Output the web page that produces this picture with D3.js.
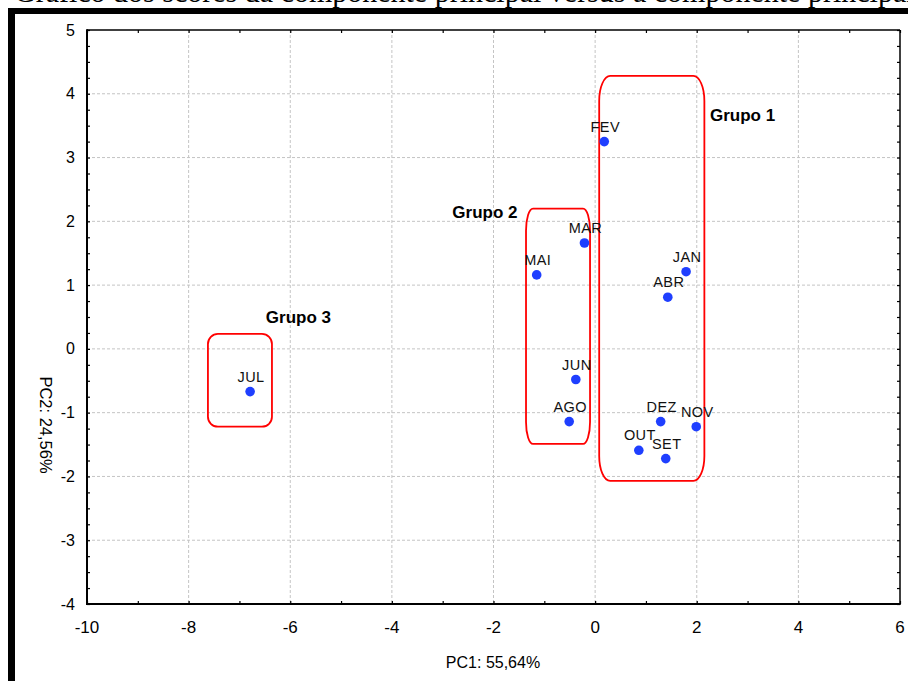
<!DOCTYPE html>
<html>
<head>
<meta charset="utf-8">
<script src="https://cdn.jsdelivr.net/npm/d3@7"></script>
<style>
  html, body { margin: 0; padding: 0; background: #fff; }
  svg { display: block; }
  text { font-family: "Liberation Sans", Arial, sans-serif; }
</style>
</head>
<body>
<svg id="chart" width="908" height="681"></svg>
<script>
// ---- data ----
const months = ["JAN","FEV","MAR","ABR","MAI","JUN","JUL","AGO","SET","OUT","NOV","DEZ"];
const pc1 = [1.79, 0.18, -0.21, 1.43, -1.15, -0.38, -6.79, -0.51, 1.39, 0.86, 1.99, 1.29];
const pc2 = [1.21, 3.25, 1.66, 0.81, 1.16, -0.48, -0.67, -1.14, -1.72, -1.59, -1.22, -1.14];

const groupNames = ["Grupo 1", "Grupo 2", "Grupo 3"];
const groupX0 = [0.08, -1.36, -7.62];
const groupX1 = [2.15, -0.10, -6.36];
const groupYTop = [4.28, 2.20, 0.235];
const groupYBottom = [-2.07, -1.49, -1.22];
const groupLabelX = [2.26, -2.81, -6.48];
const groupLabelY = [3.58, 2.06, 0.41];

const xTicks = [-10, -8, -6, -4, -2, 0, 2, 4, 6];
const yTicks = [5, 4, 3, 2, 1, 0, -1, -2, -3, -4];
const xTitle = "PC1: 55,64%";
const yTitle = "PC2: 24,56%";
const title = "Gráfico dos scores da componente principal versus a componente principal";

// ---- layout ----
const svg = d3.select("#chart");
const L = 87, R = 900, T = 30, B = 604;
const x = d3.scaleLinear().domain([-10, 6]).range([L, R]);
const y = d3.scaleLinear().domain([-4, 5]).range([B, T]);

// title (clipped at top, as in the source image)
svg.append("text")
  .attr("x", 14).attr("y", 2)
  .style("font-family", "'Liberation Serif', 'Times New Roman', serif")
  .style("font-size", "30px")
  .attr("fill", "#000")
  .text(title);

// black frame bars
svg.append("rect").attr("x", 8).attr("y", 8).attr("width", 900).attr("height", 6).attr("fill", "#000");
svg.append("rect").attr("x", 8).attr("y", 8).attr("width", 7).attr("height", 673).attr("fill", "#000");

// gridlines
const grid = svg.append("g");
grid.selectAll("line.vx").data(xTicks.filter(d => d > -10 && d < 6)).join("line")
  .attr("x1", d => x(d)).attr("x2", d => x(d)).attr("y1", T).attr("y2", B)
  .attr("stroke", "#c4c4c4").attr("stroke-width", 1).attr("stroke-dasharray", "3,2");
grid.selectAll("line.hy").data(yTicks.filter(d => d > -4 && d < 5)).join("line")
  .attr("y1", d => y(d)).attr("y2", d => y(d)).attr("x1", L).attr("x2", R)
  .attr("stroke", "#c4c4c4").attr("stroke-width", 1).attr("stroke-dasharray", "3,2");

// axes with inward ticks
const xMinor = d3.range(-10, 6.001, 1);
const yMinor = d3.range(-4, 5.001, 0.25);
const axB = d3.axisBottom(x).tickValues(xMinor).tickSize(-3).tickFormat("");
const axT = d3.axisTop(x).tickValues(xMinor).tickSize(-3).tickFormat("");
const axL = d3.axisLeft(y).tickValues(yMinor).tickSize(-3).tickFormat("");
const axR = d3.axisRight(y).tickValues(yMinor).tickSize(-3).tickFormat("");
function styleAxis(g) {
  g.select(".domain").remove();
  g.selectAll(".tick line").attr("stroke", "#000").attr("stroke-width", 1.2);
}
svg.append("g").attr("transform", `translate(0,${B})`).call(axB).call(styleAxis);
svg.append("g").attr("transform", `translate(0,${T})`).call(axT).call(styleAxis);
svg.append("g").attr("transform", `translate(${L},0)`).call(axL).call(styleAxis);
svg.append("g").attr("transform", `translate(${R},0)`).call(axR).call(styleAxis);

// frame
svg.append("line").attr("x1", L).attr("x2", R).attr("y1", T).attr("y2", T).attr("stroke", "#000").attr("stroke-width", 1.5);
svg.append("line").attr("x1", R).attr("x2", R).attr("y1", T).attr("y2", B).attr("stroke", "#000").attr("stroke-width", 1.5);
svg.append("line").attr("x1", L).attr("x2", L).attr("y1", T - 0.75).attr("y2", B + 1).attr("stroke", "#000").attr("stroke-width", 2);
svg.append("line").attr("x1", L - 1).attr("x2", R + 0.75).attr("y1", B).attr("y2", B).attr("stroke", "#000").attr("stroke-width", 2);

// tick labels
svg.append("g").selectAll("text").data(xTicks).join("text")
  .attr("x", d => x(d)).attr("y", 633)
  .attr("text-anchor", "middle")
  .style("font-size", "17px").attr("fill", "#000")
  .text(d => d);
svg.append("g").selectAll("text").data(yTicks).join("text")
  .attr("x", 75).attr("y", d => y(d) + 5.5)
  .attr("text-anchor", "end")
  .style("font-size", "16px").attr("fill", "#000")
  .text(d => d);

// axis titles
svg.append("text").attr("x", 493).attr("y", 668).attr("text-anchor", "middle")
  .style("font-size", "16px").attr("fill", "#000").text(xTitle);
svg.append("text").attr("transform", "translate(40,425) rotate(90)").attr("text-anchor", "middle")
  .style("font-size", "16.5px").attr("fill", "#000").text(yTitle);

// group boxes
const cornerRx = [11, 7, 10];
const cornerRy = [25, 22, 10];
const groups = groupNames.map((n, i) => ({ n, i }));
svg.append("g").selectAll("rect").data(groups).join("rect")
  .attr("x", d => x(groupX0[d.i]))
  .attr("y", d => y(groupYTop[d.i]))
  .attr("width", d => x(groupX1[d.i]) - x(groupX0[d.i]))
  .attr("height", d => y(groupYBottom[d.i]) - y(groupYTop[d.i]))
  .attr("rx", d => cornerRx[d.i]).attr("ry", d => cornerRy[d.i])
  .attr("fill", "none").attr("stroke", "#ff0000").attr("stroke-width", 1.8);

svg.append("g").selectAll("text").data(groups).join("text")
  .attr("x", d => x(groupLabelX[d.i])).attr("y", d => y(groupLabelY[d.i]))
  .style("font-size", "17px").style("font-weight", "bold").attr("fill", "#000")
  .text(d => d.n);

// points
const pts = months.map((m, i) => ({ m, px: pc1[i], py: pc2[i] }));
svg.append("g").selectAll("circle").data(pts).join("circle")
  .attr("cx", d => x(d.px)).attr("cy", d => y(d.py)).attr("r", 4.8)
  .attr("fill", "#1f3fff");
svg.append("g").selectAll("text").data(pts).join("text")
  .attr("x", d => x(d.px) + 1).attr("y", d => y(d.py) - 10)
  .attr("text-anchor", "middle")
  .style("font-size", "14.5px").style("letter-spacing", "0.4px").attr("fill", "#111")
  .text(d => d.m);
</script>
</body>
</html>
